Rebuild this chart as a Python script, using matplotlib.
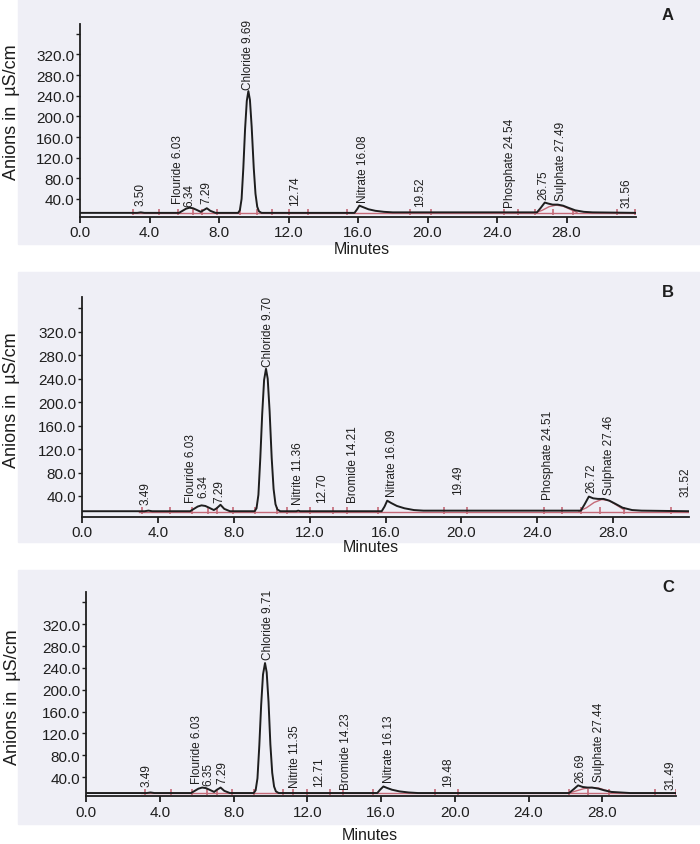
#!/usr/bin/python
import matplotlib
matplotlib.use('Agg')
import matplotlib.pyplot as plt
from matplotlib.patches import Rectangle

#===============================
# panel A : trace (minutes, uS/cm)
tA = [0.0, 3.3, 3.5, 3.7, 5.7, 5.9, 6.1, 6.3, 6.5, 6.7, 6.95, 7.1, 7.3, 7.5, 7.8,
      9.1, 9.2, 9.3, 9.4, 9.5, 9.6, 9.69, 9.78, 9.88, 10.0, 10.1, 10.2, 10.3, 10.45,
      15.8, 15.95, 16.08, 16.3, 16.6, 17.0, 17.5, 18.0,
      26.3, 26.5, 26.75, 26.95, 27.2, 27.5, 27.8, 28.1, 28.5, 29.0, 29.5, 32.0]
vA = [13, 13, 14, 13, 13, 17, 21, 23, 22, 19, 15, 18, 22, 17, 13,
      13, 18, 40, 100, 175, 230, 249, 232, 180, 100, 50, 25, 16, 13,
      13, 20, 27, 24, 20, 17, 15, 14,
      14, 22, 33, 31, 29, 29, 27, 23, 18, 15, 14, 13]
fitA_t = [26.2, 26.6, 27.0, 27.4, 27.8, 28.2, 28.6]
fitA_v = [13, 18, 25, 28, 26, 20, 14]
baseA = 13
labA = ['3.50', 'Flouride 6.03', '6.34', '7.29', 'Chloride 9.69', '12.74',
        'Nitrate 16.08', '19.52', 'Phosphate 24.54', '26.75', 'Sulphate 27.49', '31.56']
labA_x = [3.46, 5.62, 6.30, 7.30, 9.69, 12.38, 16.28, 19.58, 24.77, 26.69, 27.69, 31.45]
labA_y = [28, 32, 27, 32, 253, 28, 34, 27, 24, 40, 37, 24]
markA = [3.07, 4.57, 5.66, 6.49, 7.05, 7.91, 9.18, 10.18, 11.04, 12.0, 13.15, 15.36,
         18.97, 20.2, 24.38, 25.19, 26.17, 27.23, 28.38, 30.9, 31.93]

# panel B
tB = [0.0, 3.3, 3.5, 3.7, 5.7, 5.9, 6.1, 6.3, 6.5, 6.7, 6.95, 7.1, 7.3, 7.5, 7.8,
      9.1, 9.2, 9.3, 9.4, 9.5, 9.6, 9.70, 9.79, 9.89, 10.0, 10.1, 10.2, 10.3, 10.45,
      11.3, 11.4, 11.5,
      15.8, 15.95, 16.09, 16.3, 16.6, 17.0, 17.5, 18.0,
      26.3, 26.5, 26.72, 26.95, 27.2, 27.5, 27.8, 28.1, 28.5, 29.0, 29.5, 32.0]
vB = [14, 14, 15, 14, 14, 18, 22, 24, 23, 20, 16, 19, 25, 18, 14,
      14, 19, 42, 105, 180, 238, 257, 240, 185, 105, 52, 26, 17, 14,
      14, 15, 14,
      14, 22, 32, 28, 23, 19, 16, 15,
      15, 26, 39, 36, 35, 35, 32, 27, 20, 16, 15, 14]
fitB_t = [26.2, 26.6, 27.0, 27.4, 27.8, 28.2, 28.6]
fitB_v = [14, 20, 29, 34, 32, 24, 16]
baseB = 14
labB = ['3.49', 'Flouride 6.03', '6.34', '7.29', 'Chloride 9.70', 'Nitrite 11.36', '12.70',
        'Bromide 14.21', 'Nitrate 16.09', '19.49', 'Phosphate 24.51', '26.72',
        'Sulphate 27.46', '31.52']
labB_x = [3.36, 5.72, 6.38, 7.22, 9.83, 11.37, 12.64, 14.31, 16.33, 19.85, 24.59, 26.88, 27.76, 31.8]
labB_y = [26, 29, 38, 30, 262, 26, 29, 30, 40, 43, 35, 47, 43, 40]
markB = [3.15, 4.64, 5.79, 6.66, 7.10, 7.98, 9.12, 10.27, 10.8, 12.03, 13.25, 13.96,
         15.6, 19.06, 20.29, 24.37, 25.3, 26.32, 27.32, 28.59, 31.05, 32.16]

# panel C
tC = [0.0, 3.3, 3.5, 3.7, 5.7, 5.9, 6.1, 6.3, 6.5, 6.7, 6.95, 7.1, 7.3, 7.5, 7.8,
      9.1, 9.2, 9.3, 9.4, 9.5, 9.6, 9.71, 9.8, 9.9, 10.0, 10.1, 10.2, 10.3, 10.45,
      15.8, 15.95, 16.13, 16.35, 16.6, 17.0, 17.5, 18.0,
      26.2, 26.45, 26.69, 26.95, 27.2, 27.45, 27.8, 28.1, 28.5, 29.0, 29.5, 32.0]
vC = [11, 11, 12, 11, 11, 15, 19, 21, 20, 17, 13, 17, 21, 15, 11,
      11, 16, 38, 98, 172, 228, 249, 232, 178, 100, 48, 23, 14, 11,
      11, 17, 23, 20, 17, 14, 12, 11,
      11, 18, 25, 22, 21, 21, 19, 16, 13, 12, 11, 11]
fitC_t = [26.2, 26.6, 27.0, 27.4, 27.8, 28.2, 28.6]
fitC_v = [11, 15, 19, 21, 20, 16, 12]
baseC = 11
labC = ['3.49', 'Flouride 6.03', '6.35', '7.29', 'Chloride 9.71', 'Nitrite 11.35', '12.71',
        'Bromide 14.23', 'Nitrate 16.13', '19.48', '26.69', 'Sulphate 27.44', '31.49']
labC_x = [3.29, 6.0, 6.64, 7.42, 9.89, 11.34, 12.66, 14.1, 16.46, 19.66, 26.8, 27.8, 31.69]
labC_y = [24, 29, 26, 29, 256, 22, 24, 18, 31, 24, 31, 33, 18]
markC = [3.2, 4.61, 5.77, 6.55, 7.09, 7.9, 9.12, 10.7, 11.2, 11.97, 13.24, 13.96,
         15.59, 18.94, 20.2, 26.17, 27.2, 28.39, 30.87, 32.0]

xticks = [0, 4, 8, 12, 16, 20, 24, 28]
xticklabels = ['0.0', '4.0', '8.0', '12.0', '16.0', '20.0', '24.0', '28.0']
yticks = [40, 80, 120, 160, 200, 240, 280, 320, 360]
yticklabels = ['40.0', '80.0', '120.0', '160.0', '200.0', '240.0', '280.0', '320.0', '']

RED = '#c46a78'
INK = '#1e1e1e'
PANEL = '#efeff6'

#==================================
def DrawPanel(fig, rect, t, v, fit_t, fit_v, base, labels, lab_x, lab_y, marks):
  ax = fig.add_axes(rect)
  ax.set_zorder(2)
  ax.patch.set_alpha(0)
  ax.plot([3.0, 32.0], [base - 0.8, base - 0.8], color=RED, lw=1.0)
  ax.plot(fit_t, fit_v, color=RED, lw=1.0)
  ax.vlines(marks, base - 4, base + 8, color=RED, lw=1.2)
  ax.plot(t, v, color=INK, lw=1.4)
  for s, x, y in zip(labels, lab_x, lab_y):
    ax.text(x, y, s, rotation=90, ha='center', va='bottom', fontsize=8.5,
            color=INK)
  ax.set_xlim(0, 32)
  ax.set_ylim(5, 380)
  ax.set_xticks(xticks)
  ax.set_xticklabels(xticklabels)
  ax.set_yticks(yticks)
  ax.set_yticklabels(yticklabels)
  ax.spines['top'].set_visible(False)
  ax.spines['right'].set_visible(False)
  for sp in ['left', 'bottom']:
    ax.spines[sp].set_color(INK)
    ax.spines[sp].set_linewidth(1.3)
  ax.tick_params(axis='x', direction='out', length=4, width=1.3, pad=2,
                 labelsize=11, colors=INK)
  ax.tick_params(axis='y', direction='out', length=3, width=1.0, pad=1,
                 labelsize=11, colors=INK)
  return ax

def DrawFig(filename):
  plt.rcParams['font.family'] = 'Liberation Sans'
  fig = plt.figure(figsize=(7.0, 8.45), dpi=100)
  W, H = 700.0, 845.0

  # scanned page panels
  for y0, y1 in [(0, 245), (273, 543), (571, 825)]:
    fig.patches.append(Rectangle((18 / W, 1 - y1 / H), 1 - 18 / W, (y1 - y0) / H,
                                 transform=fig.transFigure, color=PANEL, zorder=-5))

  DrawPanel(fig, [80 / W, 1 - 218 / H, 556 / W, 193.5 / H],
            tA, vA, fitA_t, fitA_v, baseA, labA, labA_x, labA_y, markA)
  DrawPanel(fig, [82 / W, 1 - 517.5 / H, 607 / W, 219.8 / H],
            tB, vB, fitB_t, fitB_v, baseB, labB, labB_x, labB_y, markB)
  DrawPanel(fig, [86 / W, 1 - 797.3 / H, 590 / W, 204.8 / H],
            tC, vC, fitC_t, fitC_v, baseC, labC, labC_x, labC_y, markC)

  for x, y in [(362, 250), (371, 548), (370, 836)]:
    fig.text(x / W, 1 - y / H, 'Minutes', ha='center', va='center',
             fontsize=11.5, color=INK, zorder=3)
  for x, y in [(12, 112), (12, 400), (13, 697)]:
    fig.text(x / W, 1 - y / H, 'Anions in  \u00b5S/cm', rotation=90,
             ha='center', va='center', fontsize=13, color=INK, zorder=3)
  for s, x, y in [('A', 668, 15), ('B', 668, 293), ('C', 668, 588)]:
    fig.text(x / W, 1 - y / H, s, ha='center', va='center',
             fontsize=12, fontweight='bold', color=INK, zorder=3)

  plt.savefig(filename, dpi=100)
  return

#==================================
def main():
  DrawFig('out.png')
  return

if __name__ == '__main__':
  main()
